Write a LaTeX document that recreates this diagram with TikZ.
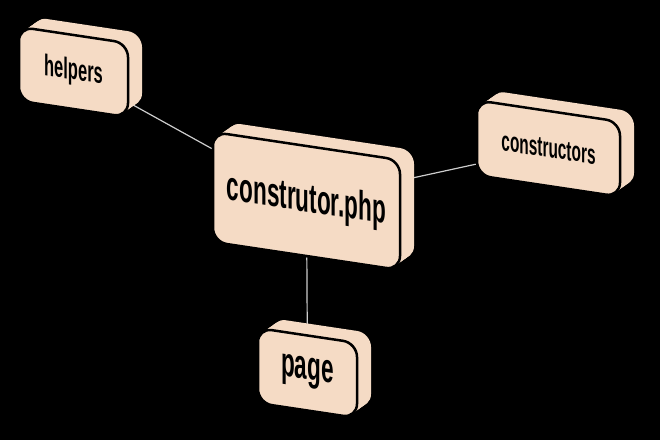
\documentclass[tikz,border=0pt]{standalone}
\usepackage{graphicx}
\usepackage{fontspec}
\setmainfont{Liberation Sans}
\usetikzlibrary{backgrounds}

\definecolor{peach}{RGB}{245,219,197}
\definecolor{wiregray}{RGB}{205,205,205}

\tikzset{
  backface/.style={fill=peach, rounded corners=14pt},
  frontface/.style={draw=black, line width=2.5pt, fill=peach, rounded corners=14pt,
    inner sep=0pt, transform shape, font=\bfseries},
  wire/.style={draw=wiregray, line width=1.2pt}
}

% name, x, y, width, height, font size, label
\newcommand\archbox[7]{%
  \begin{scope}[shift={(#2,#3)}, yslant=-0.15]
    \foreach \t in {0,0.1,...,1.01}
      \fill[backface] (-#4/2+14*\t,-#5/2-12*\t) rectangle (#4/2+14*\t,#5/2-12*\t);
    \node[frontface, minimum width=#4pt, minimum height=#5pt] (#1)
      {\scalebox{0.55}[1]{\fontsize{#6}{#6}\selectfont #7}};
  \end{scope}}

\begin{document}
\begin{tikzpicture}[x=1pt, y=-1pt]
  \archbox{main}{306.5}{201}{187}{110}{41}{construtor.php}
  \archbox{helpers}{73.5}{72}{109}{74}{30}{helpers}
  \archbox{constructors}{548.5}{148.5}{143}{75}{28}{constructors}
  \archbox{page}{307.5}{373}{99}{75}{41}{page}
  \begin{scope}[on background layer]
    \fill[black] (0,0) rectangle (660,440);
    \draw[wire] (helpers) -- (main);
    \draw[wire] (main) -- (constructors);
    \draw[wire] (main) -- (page);
  \end{scope}
\end{tikzpicture}
\end{document}
